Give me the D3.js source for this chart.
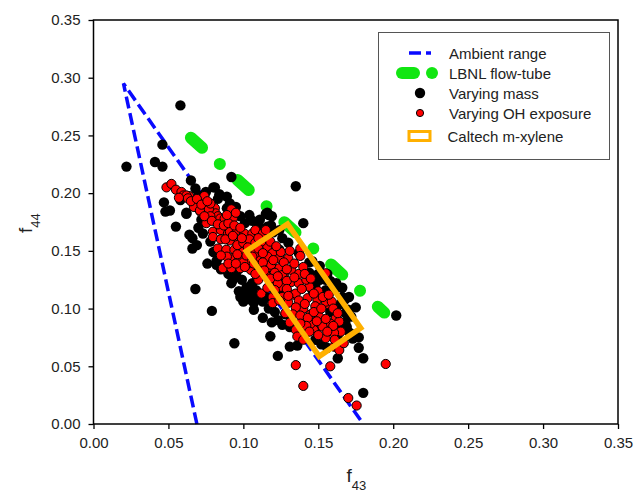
<!DOCTYPE html>
<html>
<head>
<meta charset="utf-8">
<script src="https://cdn.jsdelivr.net/npm/d3@7"></script>
<style>
  html, body { margin: 0; padding: 0; background: #fff; }
  svg { display: block; font-family: "Liberation Sans", Arial, sans-serif; }
</style>
</head>
<body>
<svg id="chart" width="635" height="494"></svg>
<script>
// === data (f43, f44) ===
const xTicks = [0, 0.05, 0.10, 0.15, 0.20, 0.25, 0.30, 0.35];
const yTicks = [0, 0.05, 0.10, 0.15, 0.20, 0.25, 0.30, 0.35];

// Ambient range triangle (Ng et al.)
const ambientRange = [[0.069, 0.0], [0.020, 0.295], [0.180, 0.0]];
// LBNL flow-tube line
const lbnlLine = [[0.065, 0.248], [0.194, 0.0965]];
// Caltech m-xylene box corners
const caltechBox = [[0.1295, 0.1733], [0.1783, 0.0831], [0.1506, 0.0586], [0.1019, 0.1497]];

const varyingMass = [
  [0.022,0.223],[0.058,0.276],[0.046,0.242],[0.041,0.227],[0.046,0.223],[0.092,0.214],
  [0.135,0.206],[0.140,0.174],[0.065,0.211],[0.081,0.205],[0.083,0.195],[0.047,0.192],
  [0.048,0.184],[0.051,0.185],[0.055,0.171],[0.062,0.183],[0.104,0.181],[0.115,0.182],
  [0.119,0.180],[0.069,0.155],[0.066,0.152],[0.091,0.191],[0.089,0.187],[0.076,0.139],
  [0.082,0.138],[0.068,0.117],[0.079,0.098],[0.092,0.122],[0.094,0.070],[0.107,0.099],
  [0.123,0.059],[0.136,0.068],[0.131,0.084],[0.128,0.095],[0.100,0.106],[0.103,0.113],
  [0.106,0.122],[0.202,0.094],[0.180,0.027],[0.177,0.075],[0.177,0.066],[0.180,0.057],
  [0.175,0.101],[0.168,0.108],[0.163,0.057],[0.162,0.070],[0.164,0.087],[0.116,0.171],
  [0.064,0.164],[0.066,0.161],[0.085,0.134],[0.101,0.109],[0.144,0.131],[0.146,0.116],
  [0.151,0.125],[0.155,0.116],[0.168,0.096],[0.169,0.084],[0.173,0.074],[0.163,0.077],
  [0.128,0.105],[0.124,0.113],[0.131,0.067],[0.118,0.076],[0.113,0.092],[0.166,0.110],
  [0.150,0.130],[0.148,0.120],[0.155,0.125],[0.144,0.140],[0.124,0.151],[0.117,0.181],
  [0.089,0.197],[0.080,0.205],[0.116,0.183],[0.062,0.182],[0.082,0.141],[0.058,0.194],
  [0.068,0.204],[0.113,0.168],[0.124,0.168],[0.1185,0.172],[0.111,0.177],[0.088,0.134],
  [0.104,0.119],[0.1085,0.116],[0.111,0.110],[0.104,0.108],[0.097,0.115],[0.156,0.130],
  [0.162,0.122],[0.166,0.118],[0.1705,0.110],[0.158,0.097],[0.150,0.085],[0.141,0.078],
  [0.095,0.128],[0.099,0.125],[0.102,0.118],[0.108,0.112],[0.113,0.106],[0.117,0.100],
  [0.121,0.097],[0.123,0.090],[0.126,0.086],[0.096,0.133],[0.090,0.130],[0.093,0.125],
  [0.098,0.110],[0.107,0.105],[0.115,0.110],[0.119,0.088],[0.146,0.141],[0.151,0.137],
  [0.158,0.124],[0.161,0.117],[0.165,0.104],[0.170,0.099],[0.172,0.093],[0.168,0.088],
  [0.171,0.079],[0.156,0.066],[0.152,0.069],[0.148,0.073],[0.137,0.148],[0.130,0.157],
  [0.126,0.161],[0.120,0.166],[0.106,0.176],[0.098,0.180],[0.095,0.188],[0.084,0.199],
  [0.075,0.201],[0.070,0.198],[0.072,0.177],[0.070,0.170],[0.073,0.165],[0.078,0.158],
  [0.083,0.144],[0.080,0.149],[0.101,0.174],[0.110,0.172]
];

const varyingOH = [
  [0.0487,0.205],[0.052,0.208],[0.055,0.203],[0.0587,0.201],[0.0638,0.1975],[0.060,0.198],
  [0.062,0.198],[0.063,0.1955],[0.0675,0.191],[0.067,0.188],[0.0713,0.184],[0.071,0.185],
  [0.074,0.1975],[0.0753,0.174],[0.081,0.187],[0.0815,0.1825],[0.083,0.180],[0.0846,0.178],
  [0.0875,0.178],[0.092,0.186],[0.093,0.178],[0.0797,0.1666],[0.085,0.168],[0.0897,0.165],
  [0.091,0.1666],[0.0957,0.168],[0.1007,0.165],[0.106,0.165],[0.108,0.168],[0.113,0.165],
  [0.115,0.168],[0.0797,0.162],[0.085,0.160],[0.091,0.159],[0.097,0.159],[0.102,0.158],
  [0.083,0.152],[0.0886,0.151],[0.094,0.151],[0.0996,0.149],[0.106,0.151],[0.116,0.1536],
  [0.1195,0.148],[0.138,0.152],[0.092,0.1436],[0.0974,0.1427],[0.104,0.142],[0.110,0.142],
  [0.116,0.145],[0.124,0.1436],[0.130,0.1436],[0.138,0.1456],[0.0863,0.135],[0.092,0.135],
  [0.098,0.135],[0.105,0.1335],[0.1107,0.136],[0.117,0.136],[0.124,0.135],[0.127,0.129],
  [0.1185,0.138],[0.115,0.129],[0.1207,0.1248],[0.126,0.129],[0.132,0.1335],[0.137,0.130],
  [0.125,0.119],[0.132,0.123],[0.137,0.122],[0.144,0.119],[0.1195,0.110],[0.126,0.110],
  [0.133,0.112],[0.1428,0.109],[0.1494,0.1075],[0.156,0.104],[0.155,0.1306],[0.135,0.113],
  [0.148,0.102],[0.155,0.106],[0.1506,0.093],[0.1406,0.090],[0.159,0.106],[0.1617,0.0917],
  [0.158,0.087],[0.1528,0.0844],[0.147,0.0816],[0.135,0.0816],[0.136,0.0758],[0.128,0.096],
  [0.1195,0.1047],[0.112,0.113],[0.123,0.122],[0.103,0.139],[0.164,0.0888],[0.165,0.080],
  [0.155,0.0744],[0.1605,0.067],[0.164,0.064],[0.1605,0.079],[0.135,0.051],[0.140,0.033],
  [0.158,0.050],[0.195,0.052],[0.170,0.0225],[0.1756,0.016],[0.145,0.095],[0.140,0.100],
  [0.130,0.105],[0.145,0.087],[0.150,0.115],[0.142,0.125],[0.140,0.136],[0.110,0.125],
  [0.100,0.140],[0.108,0.148],[0.112,0.158],[0.118,0.158],
  [0.057,0.196],[0.065,0.193],[0.069,0.195],[0.072,0.190],[0.077,0.186],[0.078,0.180],
  [0.074,0.180],[0.079,0.176],[0.083,0.173],[0.087,0.172],[0.090,0.174],[0.094,0.172],
  [0.098,0.170],[0.088,0.160],[0.093,0.163],[0.096,0.155],[0.100,0.157],[0.104,0.160],
  [0.108,0.157],[0.110,0.152],[0.113,0.148],[0.102,0.146],[0.106,0.145],[0.096,0.147],
  [0.089,0.145],[0.085,0.146],[0.090,0.139],[0.095,0.139],[0.101,0.136],[0.107,0.139],
  [0.113,0.140],[0.120,0.142],[0.127,0.140],[0.134,0.139],[0.129,0.134],[0.121,0.131],
  [0.114,0.133],[0.108,0.130],[0.118,0.126],[0.123,0.128],[0.129,0.124],[0.134,0.127],
  [0.141,0.130],[0.145,0.126],[0.147,0.113],[0.139,0.117],[0.129,0.117],[0.121,0.116],
  [0.116,0.118],[0.124,0.107],[0.130,0.111],[0.137,0.107],[0.141,0.104],[0.135,0.101],
  [0.133,0.095],[0.138,0.094],[0.143,0.092],[0.147,0.097],[0.152,0.100],[0.153,0.110],
  [0.157,0.112],[0.160,0.100],[0.163,0.096],[0.149,0.089],[0.155,0.091],[0.160,0.085],
  [0.142,0.085],[0.138,0.087],[0.150,0.077],[0.156,0.080],[0.144,0.080],[0.140,0.073],
  [0.131,0.088],[0.161,0.073],[0.167,0.070],[0.125,0.149],[0.131,0.150],[0.122,0.154],
  [0.110,0.161],[0.103,0.153],[0.099,0.161],[0.095,0.183],[0.089,0.181],[0.078,0.191],
  [0.076,0.193]
];

const legendItems = ['Ambient range', 'LBNL flow-tube', 'Varying mass', 'Varying OH exposure', 'Caltech m-xylene'];

// === chart ===
const svg = d3.select('#chart');
const x = d3.scaleLinear().domain([0, 0.35]).range([93.5, 618]);
const y = d3.scaleLinear().domain([0, 0.35]).range([424, 20]);

const BLUE = '#0a0aff', GREEN = '#11e611', ORANGE = '#ffb000';
const line = d3.line().x(d => x(d[0])).y(d => y(d[1]));

// ambient range (under points)
svg.append('path')
  .attr('d', line(ambientRange))
  .attr('fill', 'none')
  .attr('stroke', BLUE)
  .attr('stroke-width', 3.5)
  .attr('stroke-dasharray', '12,5');

// LBNL flow-tube
svg.append('path')
  .attr('d', line(lbnlLine))
  .attr('fill', 'none')
  .attr('stroke', GREEN)
  .attr('stroke-width', 12)
  .attr('stroke-linecap', 'round')
  .attr('stroke-dasharray', '15,24,0.01,24');

svg.append('g').selectAll('circle')
  .data(varyingMass)
  .join('circle')
  .attr('cx', d => x(d[0]))
  .attr('cy', d => y(d[1]))
  .attr('r', 5.2)
  .attr('fill', '#000');

svg.append('g').selectAll('circle')
  .data(varyingOH)
  .join('circle')
  .attr('cx', d => x(d[0]))
  .attr('cy', d => y(d[1]))
  .attr('r', 4.6)
  .attr('fill', '#ff0000')
  .attr('stroke', '#000')
  .attr('stroke-width', 1);

// Caltech box on top
svg.append('path')
  .attr('d', line(caltechBox) + 'Z')
  .attr('fill', 'none')
  .attr('stroke', ORANGE)
  .attr('stroke-width', 5.5)
  .attr('stroke-linejoin', 'miter');

// axes
const fmt = d3.format('.2f');
const xAxis = svg.append('g')
  .attr('transform', 'translate(0,424)')
  .call(d3.axisBottom(x).tickValues(xTicks).tickFormat(fmt).tickSize(5).tickSizeOuter(0).tickPadding(8));
const yAxis = svg.append('g')
  .attr('transform', 'translate(93.5,0)')
  .call(d3.axisLeft(y).tickValues(yTicks).tickFormat(fmt).tickSize(5).tickSizeOuter(0).tickPadding(8));
[xAxis, yAxis].forEach(a => {
  a.selectAll('text').attr('font-size', 15).attr('fill', '#222').attr('font-family', '"Liberation Sans", Arial, sans-serif');
  a.selectAll('line').attr('stroke', '#000').attr('stroke-width', 1.3);
  a.select('.domain').remove();
});

// frame
svg.append('rect')
  .attr('x', x(0)).attr('y', y(0.35))
  .attr('width', x(0.35) - x(0)).attr('height', y(0) - y(0.35))
  .attr('fill', 'none').attr('stroke', '#000').attr('stroke-width', 1.5);

// axis titles
const xt = svg.append('text').attr('x', 346.5).attr('y', 482).attr('fill', '#222');
xt.append('tspan').attr('font-size', 19).text('f');
xt.append('tspan').attr('font-size', 13).attr('dy', 8).text('43');

const yt = svg.append('text').attr('transform', 'translate(32,233) rotate(-90)').attr('fill', '#222');
yt.append('tspan').attr('font-size', 19).text('f');
yt.append('tspan').attr('font-size', 13).attr('dy', 8).text('44');

// legend
const lg = svg.append('g');
lg.append('rect')
  .attr('x', 378.5).attr('y', 32.5).attr('width', 231).attr('height', 127)
  .attr('fill', '#fff').attr('stroke', '#555').attr('stroke-width', 1);

const rowY = [53, 73, 93, 113, 136];
lg.selectAll('text')
  .data(legendItems)
  .join('text')
  .attr('x', (d, i) => i === 4 ? 447.5 : 449)
  .attr('y', (d, i) => rowY[i] + 5.5)
  .attr('font-size', 15)
  .attr('fill', '#222')
  .text(d => d);

lg.append('line')
  .attr('x1', 409).attr('x2', 431).attr('y1', rowY[0]).attr('y2', rowY[0])
  .attr('stroke', BLUE).attr('stroke-width', 3.5).attr('stroke-dasharray', '12,5');
lg.append('line')
  .attr('x1', 402).attr('x2', 414).attr('y1', rowY[1]).attr('y2', rowY[1])
  .attr('stroke', GREEN).attr('stroke-width', 12).attr('stroke-linecap', 'round');
lg.append('circle').attr('cx', 432).attr('cy', rowY[1]).attr('r', 6).attr('fill', GREEN);
lg.append('circle').attr('cx', 420).attr('cy', rowY[2]).attr('r', 5.2).attr('fill', '#000');
lg.append('circle').attr('cx', 420).attr('cy', rowY[3]).attr('r', 3.6)
  .attr('fill', '#ff0000').attr('stroke', '#000').attr('stroke-width', 1);
lg.append('rect').attr('x', 409).attr('y', 131.5).attr('width', 21).attr('height', 9)
  .attr('fill', 'none').attr('stroke', ORANGE).attr('stroke-width', 3);
</script>
</body>
</html>
